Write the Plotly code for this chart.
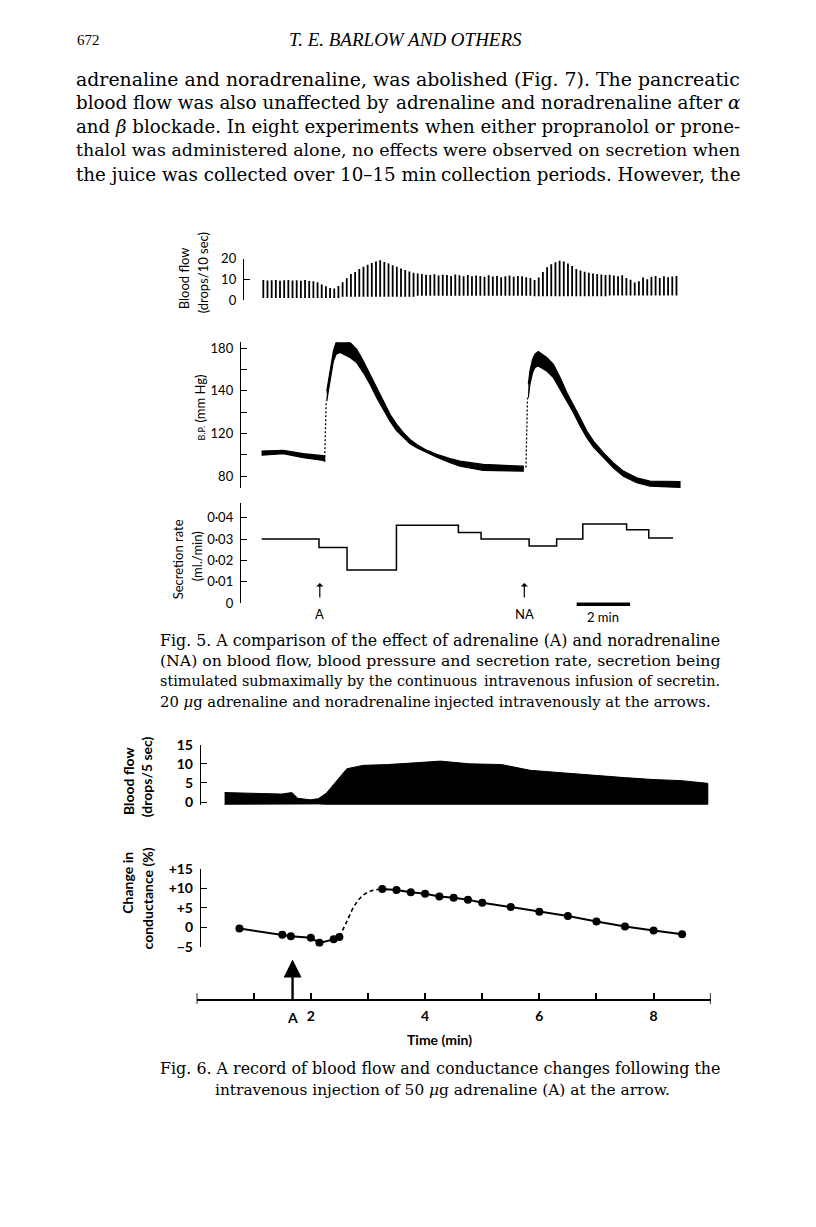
import numpy as np
import plotly.graph_objects as go

# ---------------- page geometry ----------------
# the html page has an 8 px body margin, so the figure is drawn 8 px in from the page corner
PAGE_W, PAGE_H, PAGE_MARGIN = 816, 1227, 8
W, H = PAGE_W - 2 * PAGE_MARGIN, PAGE_H - 2 * PAGE_MARGIN
def fx(px): return (px - PAGE_MARGIN) / W
def fy(py): return 1 - (py - PAGE_MARGIN) / H

SERIF = "DejaVu Serif"
SERIF2 = "Liberation Serif"
SANS = "Lato"

# ---------------- DATA ----------------
# Fig. 5 - blood flow (drops/10 sec): one stroke per drop, bottom and top of each stroke
flow5_top = ([9.6, 9.4, 9.5, 9.7, 9.3, 9.5, 9.6, 9.4, 9.5, 9.3, 9.6, 9.2, 9.0, 8.6]
             + [7.5, 6.6, 5.8, 5.5, 6.8]
             + [8.5, 10.5, 12.5, 13.5]
             + [15.0, 16.0, 17.0, 17.8, 18.6, 19.2, 18.3]
             + [17.6, 16.8, 16.0, 15.2, 14.5, 13.8, 13.2]
             + [12.8, 12.5, 12.2, 12.0, 12.4, 11.8, 12.2, 12.0, 11.6, 12.3, 11.9, 11.5, 12.0, 11.4,
                11.8, 11.6, 11.2, 11.9, 11.3, 11.6, 11.0, 11.5, 11.8, 11.2, 11.6, 11.4, 11.0, 10.6]
             + [9.6, 10.8, 13.5]
             + [15.8, 17.2, 18.2, 18.9, 18.6, 17.6, 16.4]
             + [15.0, 14.2, 13.6, 13.2, 12.8, 12.5, 12.3, 12.0]
             + [12.2, 11.8, 11.5, 11.9, 10.6, 9.8, 8.4, 9.0, 10.9, 10.0, 11.2, 11.6, 10.6, 11.4, 11.0, 11.3, 11.6])
flow5_bottom = [1.0] * 19 + [1.5] * 18 + [2.0] * 28 + [1.8] * 18 + [2.2] * 17
FLOW5_FIRST_DROP_MIN = 0.064     # time of first drop (min)
FLOW5_DROP_INTERVAL_MIN = 0.1563  # chart-recorder spacing between drops (min)

# Fig. 5 - blood pressure (mm Hg), upper (systolic) and lower (diastolic) edges of the trace
bp_pre_time = [0.0, 0.81, 1.56, 2.31, 2.36]
bp_pre_sys = [103.5, 104.2, 101.1, 99.7, 99.0]
bp_pre_dia = [99.7, 101.1, 97.3, 94.8, 94.1]

bp_a_time = [2.44, 2.50, 2.56, 2.62, 2.69, 2.79, 2.94, 3.31, 3.56, 3.81, 4.06, 4.31, 4.56, 4.81,
             5.06, 5.31, 5.56, 5.81, 6.18, 6.56, 7.06, 7.43, 8.30, 9.80]
bp_a_sys = [139.9, 149.1, 158.7, 168.1, 177.5, 185.4, 188.5, 185.4, 179.1, 168.1, 155.6, 143.1, 135.2,
            129.0, 124.3, 120.4, 114.5, 109.8, 104.4, 100.4, 96.6, 94.1, 91.0, 89.4]
bp_a_dia = [135.2, 139.9, 149.1, 158.7, 168.1, 174.4, 176.0, 171.3, 166.6, 157.2, 146.2, 136.8, 131.3,
            125.8, 121.2, 116.1, 110.5, 106.7, 102.0, 97.9, 92.6, 89.4, 85.4, 84.7]

bp_na_time = [9.99, 10.05, 10.15, 10.24, 10.36, 10.68, 10.93, 11.18, 11.43, 11.68, 11.93, 12.18, 12.43,
              12.80, 13.17, 13.55, 14.05, 14.55, 15.23, 15.67]
bp_na_sys = [146.2, 158.7, 169.7, 174.4, 176.9, 171.3, 165.0, 152.5, 139.2, 132.9, 127.4, 121.2, 112.9,
             102.0, 92.6, 84.7, 78.5, 75.3, 75.3, 75.0]
bp_na_dia = [136.8, 146.2, 157.2, 162.0, 163.4, 158.7, 152.5, 141.5, 135.2, 129.8, 123.5, 116.1, 107.3,
             97.3, 87.9, 80.0, 73.8, 70.6, 69.7, 69.4]

# dotted (fast) pen strokes at the injections: (time, mmHg) start and end
bp_inject_time = [[2.36, 2.42], [9.90, 9.96]]
bp_inject_mmhg = [[94.1, 135.2], [88.2, 136.8]]

# the B.P. scale as printed on the figure (labelled ticks)
BP_LABELS = [80, 120, 140, 180]
BP_LABEL_TICK = [0, 2, 4, 6]

# Fig. 5 - secretion rate (ml./min) per collection period
sec_edges = [0, 2.15, 3.20, 5.05, 7.37, 8.22, 10.02, 11.05, 12.03, 13.67, 14.50, 15.41]
sec_rates = [0.030, 0.026, 0.0155, 0.0365, 0.033, 0.030, 0.0267, 0.030, 0.037, 0.0344, 0.0305]
inject5_time = [2.18, 9.84]
inject5_label = ["A", "NA"]

# Fig. 6 - blood flow (drops/5 sec) envelope
flow6_time = [0.49, 1.06, 1.49, 1.67, 1.77, 1.99, 2.13, 2.27, 2.42, 2.56, 2.63, 2.92, 3.34, 3.77,
              4.27, 4.77, 5.34, 5.84, 6.41, 6.92, 7.49, 7.99, 8.49, 8.95]
flow6_upper = [2.5, 2.3, 2.1, 2.5, 1.0, 0.6, 0.9, 2.3, 4.9, 7.4, 8.7, 9.6, 9.8, 10.2,
               10.7, 10.0, 9.8, 8.3, 7.6, 7.0, 6.4, 5.9, 5.6, 4.9]
flow6_lower = [-0.6, -0.6, -0.6, -0.6, -0.5, -0.5, -0.5, -0.6, -0.7, -0.7, -0.7, -0.7, -0.7, -0.7,
               -0.7, -0.7, -0.7, -0.6, -0.6, -0.6, -0.6, -0.6, -0.6, -0.6]

# Fig. 6 - change in conductance (%)
cond_time = [0.75, 1.5, 1.65, 2.0, 2.15, 2.4, 2.5, 3.25, 3.5, 3.75, 4.0, 4.25, 4.5, 4.75, 5.0,
             5.5, 6.0, 6.5, 7.0, 7.5, 8.0, 8.5]
cond_value = [-0.3, -1.9, -2.3, -2.7, -4.0, -3.1, -2.5, 9.8, 9.6, 9.0, 8.6, 7.9, 7.6, 7.1, 6.3,
              5.2, 4.0, 2.9, 1.5, 0.2, -0.8, -1.8]
cond_dash_time = [2.5, 2.63, 2.77, 2.92, 3.09, 3.25]
cond_dash_value = [-2.5, 1.5, 5.7, 8.3, 9.5, 9.8]
inject6_time = 1.68

# ---------------- text ----------------
header_page = "672"
header_title = "<i>T. E. BARLOW AND OTHERS</i>"
body_lines = [
    ("adrenaline and noradrenaline, was", "abolished (Fig. 7). The pancreatic"),
    ("blood flow was also unaffected by", "adrenaline and noradrenaline after <i>α</i>"),
    ("and <i>β</i> blockade. In eight experiments", "when either propranolol or prone-"),
    ("thalol was administered alone, no effects", "were observed on secretion when"),
    ("the juice was collected over 10–15 min", "collection periods. However, the"),
]
body_sizes = [18.9, 18.3, 18.2, 17.4, 18.3]
cap5_lines = [
    ("Fig. 5. A comparison of the effect of", "adrenaline (A) and noradrenaline"),
    ("(NA) on blood flow, blood pressure and", "secretion rate, secretion being"),
    ("stimulated submaximally by the continuous", "intravenous infusion of secretin."),
    ("20 <i>μ</i>g adrenaline and noradrenaline", "injected intravenously at the arrows."),
]
cap5_sizes = [15.8, 15.7, 14.4, 14.8]
cap6_lines = [("Fig. 6. A record of blood flow and", "conductance changes following the")]
cap6_last = "intravenous injection of 50 <i>μ</i>g adrenaline (A) at the arrow."

# ---------------- layout constants (page pixels) ----------------
F5_T0_PX, F5_PX_PER_MIN = 261.6, 26.7
F5_LEFT_PX, F5_RIGHT_PX = 230, 700
F6_T0_PX, F6_PX_PER_MIN = 196.6, 57.12
F6_AXIS_Y = 1005

def bp_axis(v):
    v = np.asarray(v, dtype=float)
    xp = [2 * BP_LABELS[0] - BP_LABELS[1]] + BP_LABELS + [2 * BP_LABELS[-1] - BP_LABELS[-2]]
    fp = [-2] + BP_LABEL_TICK + [8]
    return np.interp(v, xp, fp)

fig = go.Figure()
BLACK = "black"

# Fig 5 blood flow strokes
xs, ys = [], []
for i, (b, t) in enumerate(zip(flow5_bottom, flow5_top)):
    tt = FLOW5_FIRST_DROP_MIN + FLOW5_DROP_INTERVAL_MIN * i
    xs += [tt, tt, None]
    ys += [b, t, None]
fig.add_trace(go.Scatter(x=xs, y=ys, mode="lines", line=dict(color=BLACK, width=1.8),
                         xaxis="x", yaxis="y", hoverinfo="skip"))

# Fig 5 blood pressure band
for tarr, sarr, darr in [(bp_pre_time, bp_pre_sys, bp_pre_dia),
                         (bp_a_time, bp_a_sys, bp_a_dia),
                         (bp_na_time, bp_na_sys, bp_na_dia)]:
    px_ = list(tarr) + list(tarr)[::-1]
    py_ = list(bp_axis(sarr)) + list(bp_axis(darr))[::-1]
    fig.add_trace(go.Scatter(x=px_, y=py_, mode="lines", fill="toself", fillcolor=BLACK,
                             line=dict(color=BLACK, width=1.2), xaxis="x", yaxis="y2",
                             hoverinfo="skip"))
for tarr, varr in zip(bp_inject_time, bp_inject_mmhg):
    fig.add_trace(go.Scatter(x=tarr, y=bp_axis(varr), mode="lines",
                             line=dict(color=BLACK, width=1.3, dash="2px,2px"),
                             xaxis="x", yaxis="y2", hoverinfo="skip"))

# Fig 5 secretion rate steps
fig.add_trace(go.Scatter(x=sec_edges, y=sec_rates + [sec_rates[-1]], mode="lines",
                         line=dict(color=BLACK, width=1.5, shape="hv"),
                         xaxis="x", yaxis="y3", hoverinfo="skip"))

# Fig 6 blood flow band
fig.add_trace(go.Scatter(x=flow6_time + flow6_time[::-1], y=flow6_upper + flow6_lower[::-1],
                         mode="lines", fill="toself", fillcolor=BLACK,
                         line=dict(color=BLACK, width=1), xaxis="x2", yaxis="y4",
                         hoverinfo="skip"))

# Fig 6 conductance
fig.add_trace(go.Scatter(x=cond_time[:7], y=cond_value[:7], mode="lines",
                         line=dict(color=BLACK, width=2), xaxis="x2", yaxis="y5"))
fig.add_trace(go.Scatter(x=cond_dash_time, y=cond_dash_value, mode="lines",
                         line=dict(color=BLACK, width=1.6, dash="4px,3px", shape="spline"),
                         xaxis="x2", yaxis="y5"))
fig.add_trace(go.Scatter(x=cond_time[7:], y=cond_value[7:], mode="lines",
                         line=dict(color=BLACK, width=2), xaxis="x2", yaxis="y5"))
fig.add_trace(go.Scatter(x=cond_time, y=cond_value, mode="markers",
                         marker=dict(color=BLACK, size=8), xaxis="x2", yaxis="y5"))

# ---------------- axes ----------------
def yax(domain_px, rng, pos_px, tickvals, ticktext=None, bold=False, size=13, standoff=4):
    d = dict(domain=[fy(domain_px[0]), fy(domain_px[1])], range=rng, anchor="free",
             position=fx(pos_px), showline=True, linecolor=BLACK, linewidth=1.4,
             ticks="inside", ticklen=6, tickwidth=1.4, tickcolor=BLACK,
             tickvals=tickvals, showgrid=False, zeroline=False, fixedrange=True,
             ticklabelstandoff=standoff,
             tickfont=dict(family=SANS, size=size, color=BLACK,
                           weight="bold" if bold else "normal"))
    if ticktext is not None:
        d["ticktext"] = ticktext
    return d

f5_range = [(F5_LEFT_PX - F5_T0_PX) / F5_PX_PER_MIN, (F5_RIGHT_PX - F5_T0_PX) / F5_PX_PER_MIN]
bp_bottom_px, bp_top_px, bp_tick0_px, bp_tick_step = 486, 338, 473.7, 21.62
f6_flow_zero, f6_flow_15 = 804.3, 746

fig.update_layout(
    width=W, height=H, margin=dict(l=0, r=0, t=0, b=0),
    paper_bgcolor="white", plot_bgcolor="white", showlegend=False,
    xaxis=dict(domain=[fx(F5_LEFT_PX), fx(F5_RIGHT_PX)], range=f5_range, visible=False,
               anchor="free", position=0, fixedrange=True),
    yaxis=yax((295, 253), [0, 20], 243, [0, 10, 20]),
    yaxis2=yax((bp_bottom_px, bp_top_px),
               [(bp_tick0_px - bp_bottom_px) / bp_tick_step, (bp_tick0_px - bp_top_px) / bp_tick_step],
               240, list(range(7)), ["80", "", "120", "", "140", "", "180"]),
    yaxis3=yax((602.3, 500.7), [0, 0.047], 240, [0, 0.01, 0.02, 0.03, 0.04],
               ["0", "0·01", "0·02", "0·03", "0·04"]),
    xaxis2=dict(domain=[fx(F6_T0_PX), fx(F6_T0_PX + 9 * F6_PX_PER_MIN)], range=[0, 9],
                anchor="free", position=fy(F6_AXIS_Y), showline=True, linecolor=BLACK, linewidth=1.6,
                ticks="inside", ticklen=6, tickwidth=1.6, tickcolor=BLACK,
                tickvals=list(range(10)), ticktext=["", "", "2", "", "4", "", "6", "", "8", ""],
                ticklabelstandoff=3, showgrid=False, zeroline=False, fixedrange=True,
                tickfont=dict(family=SANS, size=14, color=BLACK, weight="bold")),
    yaxis4=yax((f6_flow_zero + 2.7, f6_flow_15),
               [-2.7 / ((f6_flow_zero - f6_flow_15) / 15), 15], 200, [0, 5, 10, 15],
               bold=True, size=14),
    yaxis5=yax((951, 872), [-5, 15], 200, [-5, 0, 5, 10, 15],
               ["−5", "0", "+5", "+10", "+15"], bold=True, size=14),
)

ann = []
def txt(x, y, text, size, family=SANS, xanchor="center", yanchor="middle", angle=0,
        xref="paper", bold=False):
    ann.append(dict(x=x, y=y, xref=xref, yref="paper", text=text, showarrow=False,
                    xanchor=xanchor, yanchor=yanchor, textangle=angle,
                    font=dict(family=family, size=size, color=BLACK,
                              weight="bold" if bold else "normal")))

# header
txt(fx(75), fy(31), header_page, 15, SERIF2, xanchor="left")
txt(fx(405), fy(31), header_title, 19, SERIF2)
# body text, justified between the margins
for k, (l, r) in enumerate(body_lines):
    yy = fy(71 + 24.1 * k)
    txt(fx(74), yy, l, body_sizes[k], SERIF, xanchor="left")
    txt(fx(742), yy, r, body_sizes[k], SERIF, xanchor="right")

# Fig 5 axis titles
txt(fx(184), fy(273), "Blood flow", 13, angle=-90)
txt(fx(203), fy(268), "(drops/10 sec)", 13, angle=-90)
txt(fx(200), fy(404), "<span style='font-size:9px'>B.P.</span> (mm Hg)", 13, angle=-90)
txt(fx(178), fy(558), "Secretion rate", 13, angle=-90)
txt(fx(197), fy(555), "(ml./min)", 13, angle=-90)

# Fig 5 injection arrows and labels
for t, lab in zip(inject5_time, inject5_label):
    ann.append(dict(x=t, y=fy(582), xref="x", yref="paper", ax=0, ay=16, text="",
                    showarrow=True, arrowhead=1, arrowsize=1, arrowwidth=1.2,
                    arrowcolor=BLACK))
    txt(t, fy(614), lab, 13, xref="x")
# 2 min scale bar label
txt(12.8, fy(617), "2 min", 13, xref="x")

# Fig 5 caption
for k, (l, r) in enumerate(cap5_lines):
    yy = fy(640.5 + 20.5 * k)
    txt(fx(158), yy, l, cap5_sizes[k], SERIF, xanchor="left")
    txt(fx(722 if k < 3 else 713), yy, r, cap5_sizes[k], SERIF, xanchor="right")

# Fig 6 axis titles
txt(fx(128), fy(783), "Blood flow", 14, angle=-90, bold=True)
txt(fx(146), fy(779), "(drops/5 sec)", 14, angle=-90, bold=True)
txt(fx(128), fy(886), "Change in", 14, angle=-90, bold=True)
txt(fx(147), fy(902), "conductance (%)", 14, angle=-90, bold=True)

# Fig 6 arrow, labels
ann.append(dict(x=inject6_time, y=fy(964), xref="x2", yref="paper", ax=0, ay=F6_AXIS_Y - 964,
                text="", showarrow=True, arrowhead=2, arrowsize=1.5, arrowwidth=2.4,
                arrowcolor=BLACK))
txt(inject6_time, fy(1023), "A", 14, xref="x2", bold=True)
txt(4.25, fy(1045), "Time (min)", 14, xref="x2", bold=True)

# Fig 6 caption
for k, (l, r) in enumerate(cap6_lines):
    yy = fy(1074.5)
    txt(fx(158), yy, l, 15.9, SERIF, xanchor="left")
    txt(fx(722), yy, r, 15.9, SERIF, xanchor="right")
txt(fx(442), fy(1096.5), cap6_last, 15.4, SERIF)

fig.update_layout(annotations=ann)

# scale bar (2 min) and taller end ticks of the Fig. 6 time axis
fig.add_shape(type="line", x0=11.8, x1=11.8 + 2, xref="x", y0=fy(603.5), y1=fy(603.5),
              yref="paper", line=dict(color=BLACK, width=3.5))
for t in [0, 9]:
    fig.add_shape(type="line", x0=t, x1=t, xref="x2", y0=fy(F6_AXIS_Y - 7), y1=fy(F6_AXIS_Y + 4),
                  yref="paper", line=dict(color=BLACK, width=1.6))

fig.write_html("out.html")
